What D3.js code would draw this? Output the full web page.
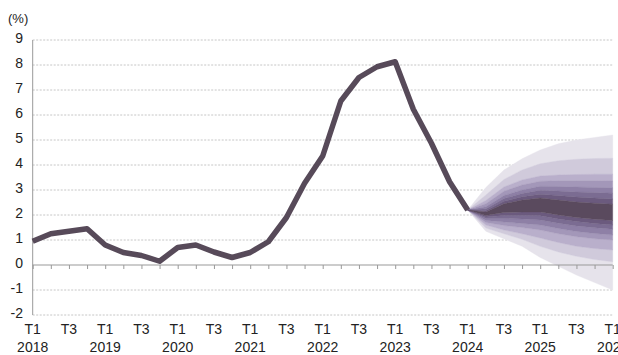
<!DOCTYPE html>
<html><head><meta charset="utf-8">
<script src="https://cdn.jsdelivr.net/npm/d3@7"></script>
<style>html,body{margin:0;padding:0;background:#fff;overflow:hidden}</style>
</head><body><svg id="c" width="618" height="355"></svg>
<script>
// Historical inflation (%), quarterly T1 2018 .. T1 2024
const histValues = [0.95,1.25,1.35,1.45, 0.8,0.5,0.38,0.15, 0.7,0.8,0.52,0.3,
  0.5,0.93,1.9,3.27, 4.36,6.56,7.5,7.93, 8.13,6.23,4.87,3.33, 2.2];
// Projection fan, quarterly T1 2024 .. T1 2026 (starting quarter index 24)
const fanStart = 24;
const centerTop    = [2.2,2.12,2.45,2.6,2.68,2.6,2.52,2.47,2.43];
const centerBottom = [2.2,1.98,2.1,2.12,2.12,2.0,1.9,1.83,1.78];
const fanUpper = [
  [2.2,2.18,2.55,2.73,2.83,2.78,2.72,2.68,2.64],
  [2.2,2.25,2.66,2.86,2.99,2.96,2.92,2.9,2.87],
  [2.2,2.33,2.78,3.0,3.15,3.14,3.12,3.1,3.09],
  [2.2,2.45,2.95,3.2,3.35,3.37,3.37,3.37,3.36],
  [2.2,2.58,3.12,3.4,3.56,3.6,3.62,3.63,3.63],
  [2.2,2.8,3.42,3.8,4.05,4.17,4.23,4.26,4.27],
  [2.2,3.1,3.8,4.25,4.6,4.85,5.0,5.1,5.2]
];
const fanLower = [
  [2.2,1.92,1.98,1.98,1.97,1.84,1.74,1.66,1.6],
  [2.2,1.86,1.86,1.84,1.8,1.67,1.56,1.49,1.43],
  [2.2,1.78,1.72,1.66,1.6,1.46,1.34,1.26,1.2],
  [2.2,1.7,1.58,1.5,1.4,1.25,1.13,1.05,1.0],
  [2.2,1.6,1.4,1.25,1.08,0.9,0.75,0.66,0.6],
  [2.2,1.48,1.25,1.03,0.75,0.52,0.35,0.22,0.13],
  [2.2,1.35,1.05,0.75,0.3,-0.05,-0.4,-0.7,-1.0]
];
const bandColors = ["#5a4a5e","#6b5a7e","#7b6c92","#8e80a6","#a397b9","#b9afcb","#d0cadb","#e6e3eb"];
const yTicks = [-2,-1,0,1,2,3,4,5,6,7,8,9];
const years = ["2018","2019","2020","2021","2022","2023","2024","2025","2026"];
const quarterLabels = ["T1","T3"];
const nQuarters = 32;

const svg = d3.select("#c");
const font = "'Liberation Sans', Arial, sans-serif";
const x = d3.scaleLinear().domain([0, nQuarters]).range([32.7, 612.7]);
const y = d3.scaleLinear().domain([-2, 9]).range([315, 40]);

// gridlines
svg.append("g").selectAll("line").data(yTicks.filter(v => v !== 0)).join("line")
  .attr("x1", x(0)).attr("x2", x(nQuarters))
  .attr("y1", d => y(d)).attr("y2", d => y(d))
  .attr("stroke", "#b8b8b8").attr("stroke-width", 0.8).attr("stroke-dasharray", "2,1.5");

// fan bands, outermost first
const idx = d3.range(centerTop.length);
const area = (top, bot) => d3.area()
  .x(i => x(fanStart + i)).y0(i => y(bot[i])).y1(i => y(top[i]))(idx);
const fanG = svg.append("g");
for (let k = fanUpper.length - 1; k >= 0; k--) {
  const innerTop = k === 0 ? centerTop : fanUpper[k - 1];
  const innerBot = k === 0 ? centerBottom : fanLower[k - 1];
  fanG.append("path").attr("d", area(fanUpper[k], innerTop)).attr("fill", bandColors[k + 1])
    .attr("stroke", bandColors[k + 1]).attr("stroke-width", 0.4);
  fanG.append("path").attr("d", area(innerBot, fanLower[k])).attr("fill", bandColors[k + 1])
    .attr("stroke", bandColors[k + 1]).attr("stroke-width", 0.4);
}
fanG.append("path").attr("d", area(centerTop, centerBottom)).attr("fill", bandColors[0])
  .attr("stroke", bandColors[0]).attr("stroke-width", 0.4);

// axes
svg.append("line").attr("x1", x(0)).attr("x2", x(0)).attr("y1", y(9)).attr("y2", y(-2))
  .attr("stroke", "#999").attr("stroke-width", 1);
const xAxis = d3.axisBottom(x).tickValues(d3.range(0, nQuarters + 1)).tickSize(4).tickFormat("");
const gx = svg.append("g").attr("transform", `translate(0,${y(0)})`).call(xAxis);
gx.select(".domain").attr("stroke", "#999").attr("d", `M${x(0)},0H${x(nQuarters)}`);
gx.selectAll(".tick line").attr("stroke", "#999");

// y labels
svg.append("g").selectAll("text").data(yTicks).join("text")
  .attr("x", 23).attr("y", d => y(d) - 2).attr("dy", "0.35em")
  .attr("text-anchor", "end").attr("font-family", font).attr("font-size", 14).attr("fill", "#222")
  .text(d => d);
svg.append("text").attr("x", 8).attr("y", 23).attr("font-family", font).attr("font-size", 13)
  .attr("fill", "#222").text("(%)");

// x labels
const xl = svg.append("g");
d3.range(0, nQuarters + 1, 2).forEach(q => {
  xl.append("text").attr("x", x(q)).attr("y", 334).attr("text-anchor", "middle")
    .attr("font-family", font).attr("font-size", 14).attr("fill", "#222")
    .text(quarterLabels[(q / 2) % 2]);
  if (q % 4 === 0) {
    xl.append("text").attr("x", x(q)).attr("y", 352).attr("text-anchor", "middle")
      .attr("font-family", font).attr("font-size", 14).attr("fill", "#222")
      .text(years[q / 4]);
  }
});

// history line
svg.append("path").datum(histValues)
  .attr("d", d3.line().x((d, i) => x(i)).y(d => y(d)))
  .attr("fill", "none").attr("stroke", "#574a59").attr("stroke-width", 5.5)
  .attr("stroke-linejoin", "round");
</script></body></html>
